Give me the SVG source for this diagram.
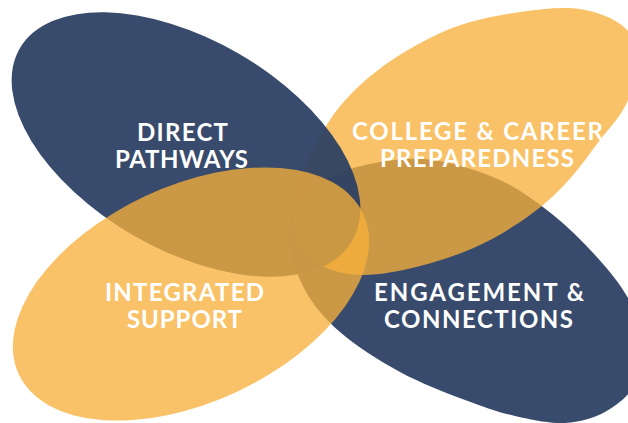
<svg xmlns="http://www.w3.org/2000/svg" width="628" height="423" viewBox="0 0 628 423">
  <style>
    .navy { fill: #2c4063; fill-opacity: 0.94; }
    .gold { fill: #f7b03a; fill-opacity: 0.77; }
    .label { font-family: Lato, "Open Sans", "Liberation Sans", sans-serif; font-weight: 700; font-size: 24px; fill: #ffffff; text-anchor: middle; }
  </style>
  <rect width="628" height="423" fill="#ffffff"/>

  <!-- petals, bottom to top: engagement, college, direct, integrated -->
  <g id="engagement-connections">
    <path class="navy" d="M289,240 C287.5,225.8 289.5,215.3 296,205 C302.5,194.7 314.8,185 328,178 C341.2,171 357.5,166 375,163 C392.5,160 412.2,157.2 433,160 C453.8,162.8 480.2,171 500,180 C519.8,189 536.2,201.5 552,214 C567.8,226.5 582.3,241 595,255 C607.7,269 619.7,283 628,298 C636.3,313 643.8,330.5 645,345 C646.2,359.5 641.7,373.8 635,385 C628.3,396.2 616.7,405.7 605,412 C593.3,418.3 580,422.3 565,423 C550,423.7 531.7,419.8 515,416 C498.3,412.2 484.2,407.3 465,400 C445.8,392.7 420.8,383.3 400,372 C379.2,360.7 355.8,345.7 340,332 C324.2,318.3 313.5,305.3 305,290 C296.5,274.7 290.5,254.2 289,240 Z"/>
  </g>
  <g id="college-career">
    <path class="gold" d="M520,12 C540.8,9 562.5,6.3 580,9 C597.5,11.7 615,18.7 625,28 C635,37.3 640.2,51.7 640,65 C639.8,78.3 630.7,95.5 624,108 C617.3,120.5 609.5,127.7 600,140 C590.5,152.3 578.7,169.5 567,182 C555.3,194.5 544.5,204.5 530,215 C515.5,225.5 498.3,236.5 480,245 C461.7,253.5 440,261 420,266 C400,271 377.5,275.7 360,275 C342.5,274.3 326.2,269.5 315,262 C303.8,254.5 295.5,243.7 293,230 C290.5,216.3 295.2,196.2 300,180 C304.8,163.8 313.7,147.2 322,133 C330.3,118.8 337.8,107.5 350,95 C362.2,82.5 377.5,69.3 395,58 C412.5,46.7 434.2,34.7 455,27 C475.8,19.3 499.2,15 520,12 Z"/>
  </g>
  <g id="direct-pathways">
    <ellipse class="navy" cx="186" cy="144.5" rx="192" ry="105" transform="rotate(30 186 144.5)"/>
  </g>
  <g id="integrated-support">
    <ellipse class="gold" cx="191" cy="294" rx="190" ry="108" transform="rotate(-25 191 294)"/>
  </g>

  <g id="connectors"/>

  <!-- labels -->
  <g id="labels">
    <text class="label" x="182.5" y="141" textLength="91">DIRECT</text>
    <text class="label" x="181.5" y="168" textLength="133">PATHWAYS</text>
    <text class="label" x="477.5" y="140" textLength="251">COLLEGE &amp; CAREER</text>
    <text class="label" x="477" y="167" textLength="194">PREPAREDNESS</text>
    <text class="label" x="184.5" y="301" textLength="159">INTEGRATED</text>
    <text class="label" x="184.5" y="328" textLength="115">SUPPORT</text>
    <text class="label" x="479" y="301" textLength="210">ENGAGEMENT &amp;</text>
    <text class="label" x="478.5" y="328" textLength="189">CONNECTIONS</text>
  </g>
</svg>
